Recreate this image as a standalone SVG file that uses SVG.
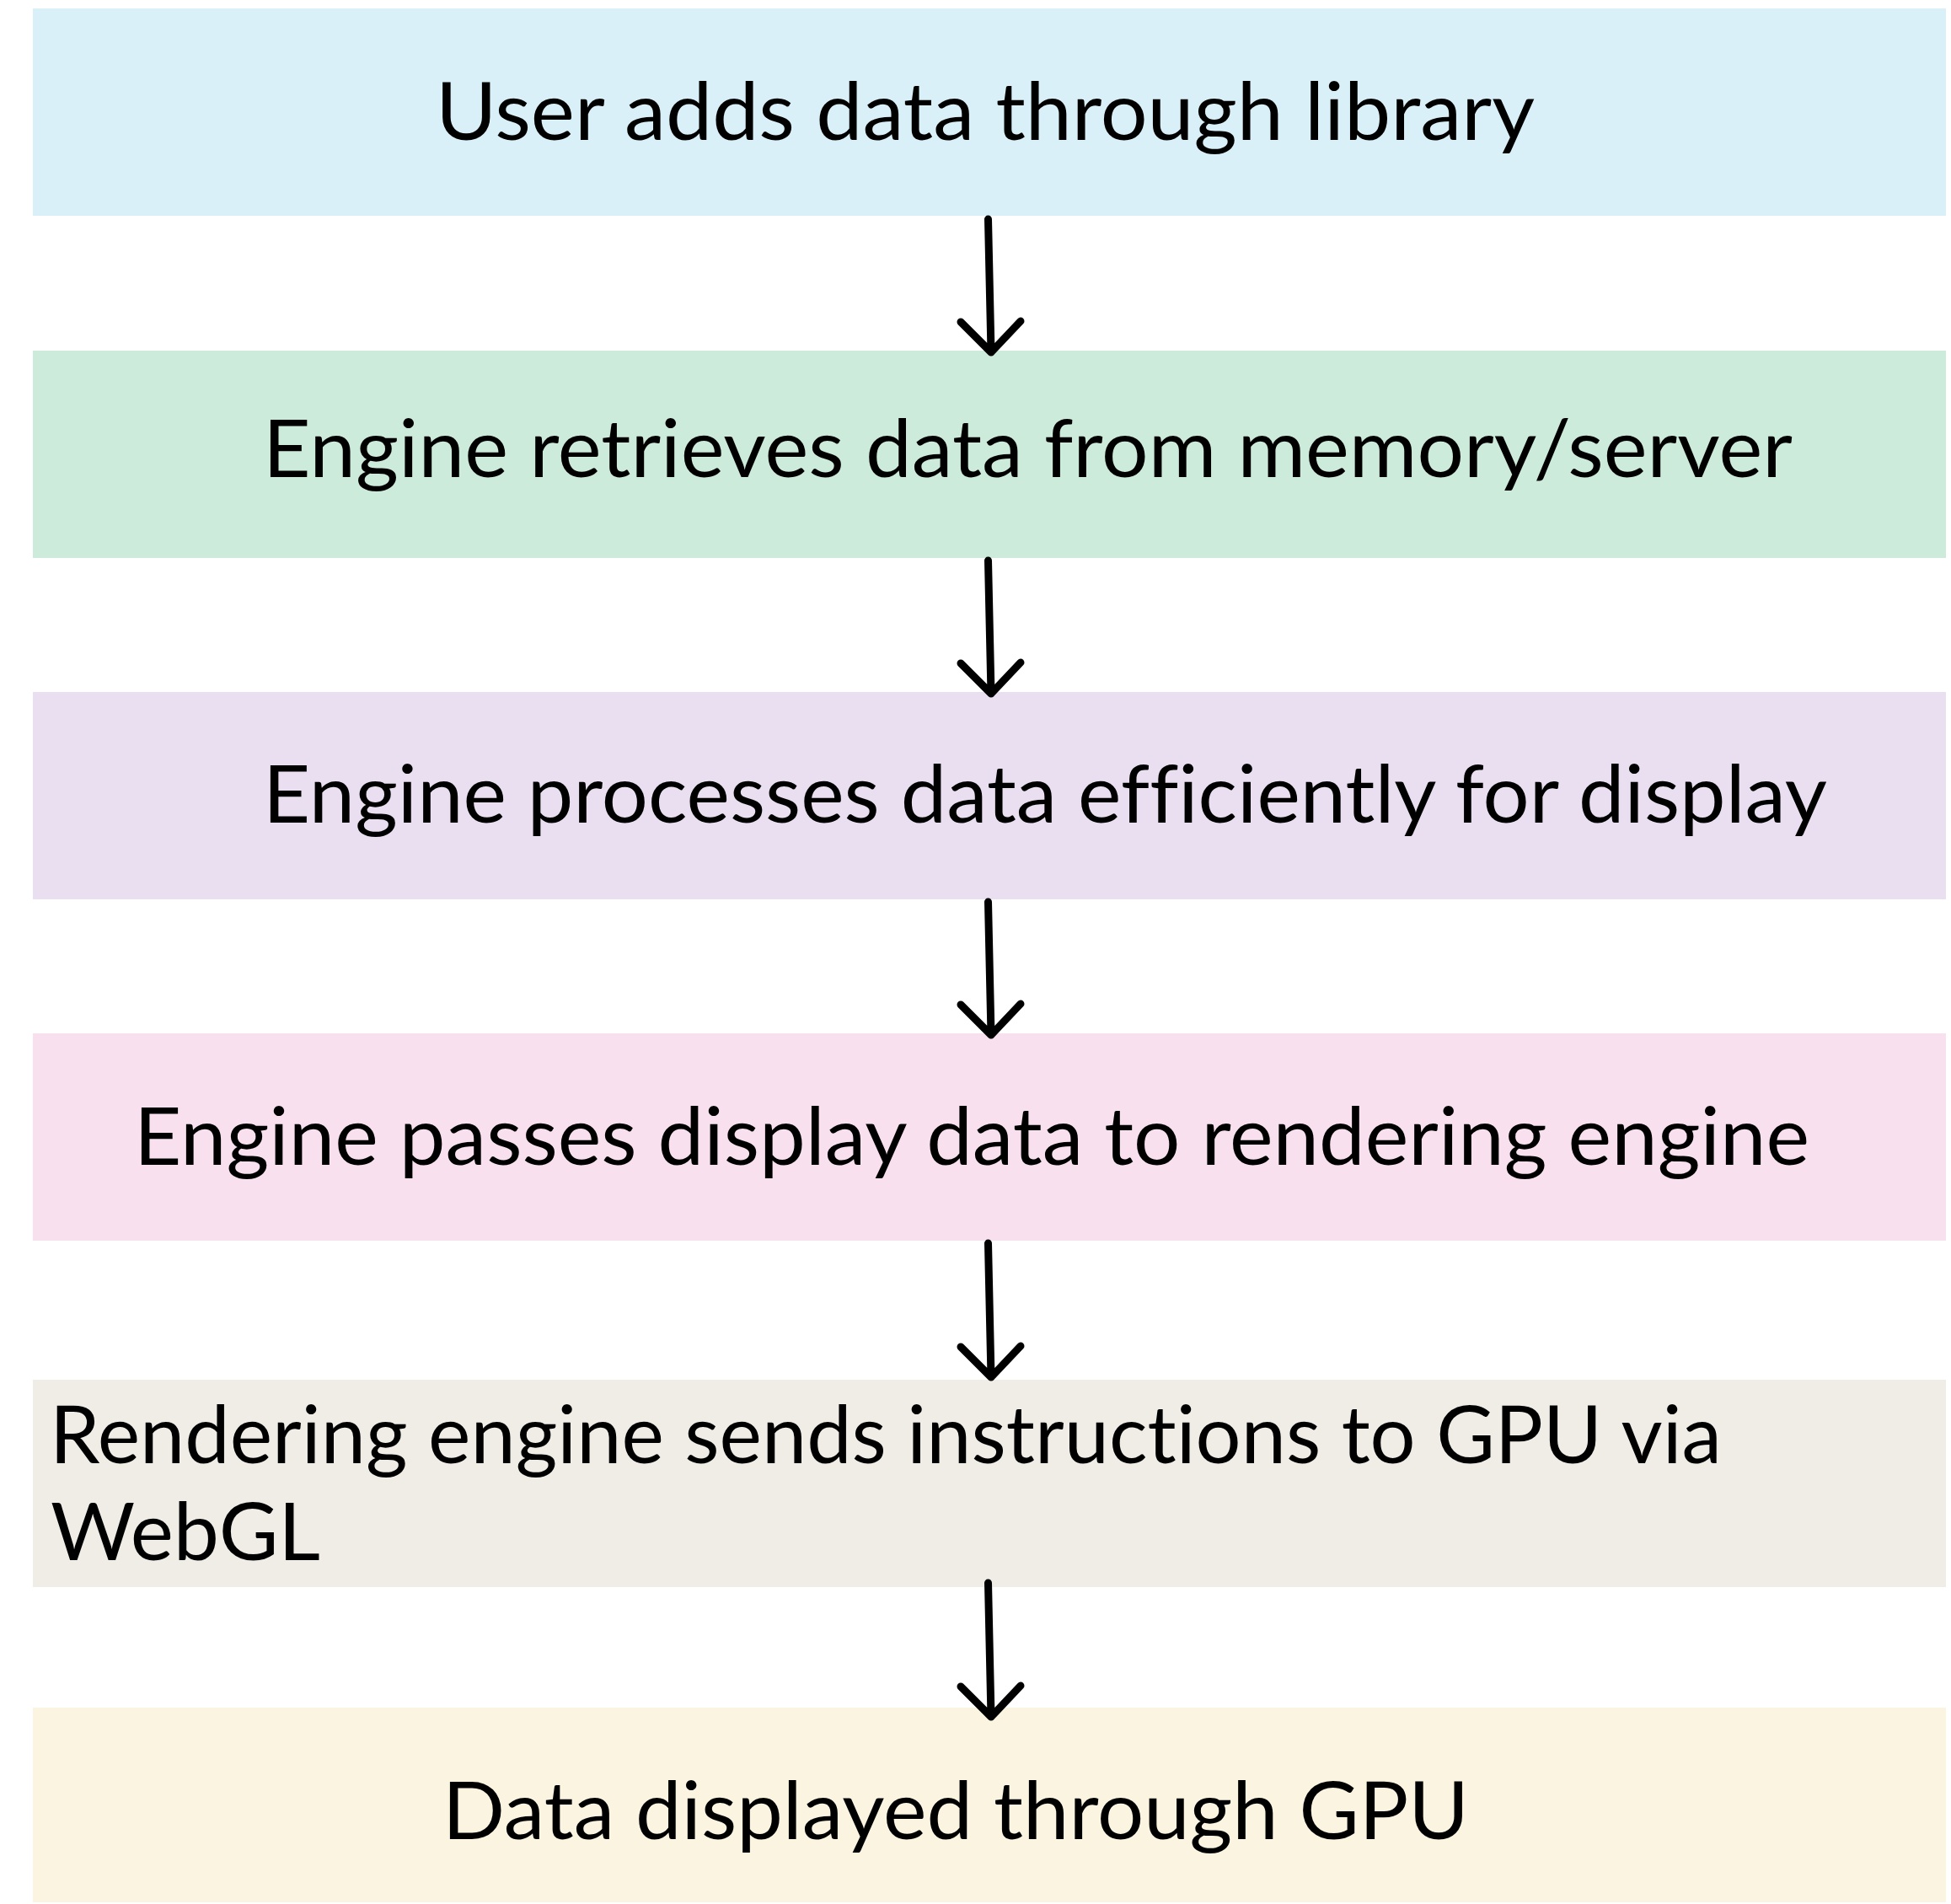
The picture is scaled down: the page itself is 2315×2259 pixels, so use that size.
<svg xmlns="http://www.w3.org/2000/svg" width="2315" height="2259" viewBox="0 0 2315 2259">
  <style>
    .step { stroke: none; }
    .label { font-family: "Lato", "Liberation Sans", sans-serif; font-size: 95px; fill: #000000; font-variant-ligatures: none; }
    .flow { fill: none; stroke: #000000; stroke-width: 9; stroke-linecap: round; stroke-linejoin: round; }
  </style>
  <rect width="2315" height="2259" fill="#ffffff"/>

  <g id="step-user-adds">
    <rect class="step" x="39" y="10" width="2270" height="246" fill="#DAF0F8"/>
    <text class="label" x="517" y="166" textLength="1304" lengthAdjust="spacingAndGlyphs">User adds data through library</text>
  </g>

  <g id="step-retrieve">
    <rect class="step" x="39" y="416" width="2270" height="246" fill="#CDEBDA"/>
    <text class="label" x="312" y="566" textLength="1815" lengthAdjust="spacingAndGlyphs">Engine retrieves data from memory/server</text>
  </g>

  <g id="step-process">
    <rect class="step" x="39" y="821" width="2270" height="246" fill="#EADFF1"/>
    <text class="label" x="312" y="976" textLength="1856" lengthAdjust="spacingAndGlyphs">Engine processes data efficiently for display</text>
  </g>

  <g id="step-pass">
    <rect class="step" x="39" y="1226" width="2270" height="246" fill="#F8E0EE"/>
    <text class="label" x="159" y="1382" textLength="1988" lengthAdjust="spacingAndGlyphs">Engine passes display data to rendering engine</text>
  </g>

  <g id="step-webgl">
    <rect class="step" x="39" y="1637" width="2270" height="246" fill="#F0EDE6"/>
    <text class="label" x="59" y="1736" textLength="1984" lengthAdjust="spacingAndGlyphs">Rendering engine sends instructions to GPU via</text>
    <text class="label" x="60" y="1851" textLength="320" lengthAdjust="spacingAndGlyphs">WebGL</text>
  </g>

  <g id="step-display">
    <rect class="step" x="39" y="2026" width="2270" height="231" fill="#FAF4E1"/>
    <text class="label" x="525" y="2182" textLength="1218" lengthAdjust="spacingAndGlyphs">Data displayed through GPU</text>
  </g>

  <g id="connectors">
    <path class="flow" d="M1172.5 260 L1176 418 M1140 382 L1176 418 L1211 381"/>
    <path class="flow" d="M1172.5 665 L1176 823 M1140 787 L1176 823 L1211 786"/>
    <path class="flow" d="M1172.5 1070 L1176 1228 M1140 1192 L1176 1228 L1211 1191"/>
    <path class="flow" d="M1172.5 1475 L1176 1634 M1140 1598 L1176 1634 L1211 1597"/>
    <path class="flow" d="M1172.5 1878 L1176 2037 M1140 2001 L1176 2037 L1211 2000"/>
  </g>
</svg>
